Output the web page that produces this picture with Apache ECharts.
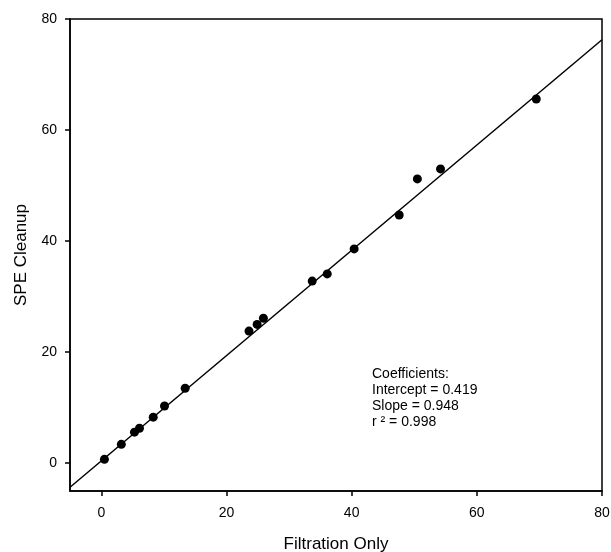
<!DOCTYPE html>
<html>
<head>
<meta charset="utf-8">
<script src="https://cdn.jsdelivr.net/npm/echarts@6/dist/echarts.min.js"></script>
<style>html,body{margin:0;padding:0;background:#fff}#c{width:611px;height:552px}</style>
</head>
<body>
<div id="c"></div>
<script>
const filtrationOnly = [0.5, 3.2, 5.3, 6.1, 8.3, 10.1, 13.4, 23.6, 24.9, 25.9, 33.7, 36.1, 40.4, 47.6, 50.5, 54.2, 69.5];
const speCleanup     = [0.7, 3.4, 5.6, 6.3, 8.3, 10.3, 13.5, 23.8, 25.0, 26.1, 32.8, 34.1, 38.6, 44.7, 51.2, 53.0, 65.6];
const fitX = [-5, 80];
const fitY = [-4.32, 76.26];
const tickValues = [0, 20, 40, 60, 80];
const coefText = ['Coefficients:', 'Intercept = 0.419', 'Slope = 0.948', 'r \u00B2 = 0.998'];

const font = 'Liberation Sans, Arial, sans-serif';
const chart = echarts.init(document.getElementById('c'), null, {renderer: 'canvas'});
const axisCommon = {
  min: -5, max: 80,
  splitLine: {show: false},
  axisLine: {show: true, onZero: false, lineStyle: {color: '#000', width: 1.5}},
  axisTick: {show: true, inside: false, length: 5, lineStyle: {color: '#000', width: 1.5}, customValues: tickValues},
  axisLabel: {color: '#000', fontSize: 14, fontFamily: font, customValues: tickValues},
  nameLocation: 'middle',
  nameTextStyle: {color: '#000', fontSize: 17, fontFamily: font}
};
chart.setOption({
  animation: false,
  backgroundColor: '#fff',
  grid: {left: 70, right: 9, top: 19, bottom: 61, containLabel: false, outerBoundsMode: 'none',
    show: true, borderColor: '#000', borderWidth: 1.5, backgroundColor: 'transparent'},
  xAxis: Object.assign({}, axisCommon, {type: 'value', name: 'Filtration Only', nameGap: 45,
    axisLabel: Object.assign({}, axisCommon.axisLabel, {margin: 15})}),
  yAxis: Object.assign({}, axisCommon, {type: 'value', name: 'SPE Cleanup', nameGap: 40,
    axisLabel: Object.assign({}, axisCommon.axisLabel, {margin: 13})}),
  graphic: [{
    type: 'text', left: 372, top: 366,
    style: {text: coefText.join('\n'), font: '14px ' + font, lineHeight: 16, fill: '#000'}
  }],
  series: [
    {type: 'line', data: fitX.map((x, i) => [x, fitY[i]]), showSymbol: false, symbol: 'none',
     lineStyle: {color: '#000', width: 1.5}, z: 2},
    {type: 'scatter', data: filtrationOnly.map((x, i) => [x, speCleanup[i]]), symbolSize: 9,
     itemStyle: {color: '#000', opacity: 1}, z: 3}
  ]
});
</script>
</body>
</html>
